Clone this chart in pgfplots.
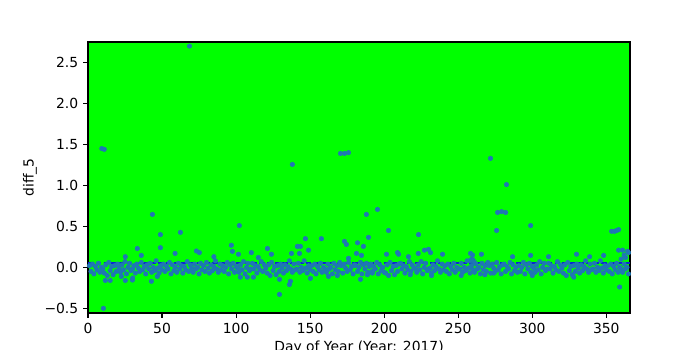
\documentclass[border=0pt]{standalone}
\usepackage{pgfplots}
\pgfplotsset{compat=1.18}
\usepackage{fontspec}
\setmainfont{DejaVu Sans}
\definecolor{c1}{RGB}{31,119,180}
\definecolor{bg}{RGB}{0,255,0}
\definecolor{meanc}{RGB}{10,40,210}
\begin{document}
\begin{tikzpicture}
\begin{axis}[
  at={(0,0)}, anchor=south west,
  scale only axis, width=390.24pt, height=195.12pt,
  xmin=0, xmax=366, ymin=-0.557, ymax=2.75,
  axis background/.style={fill=bg},
  axis line style={line width=0.8pt},
  every tick/.style={line width=0.8pt, black},
  tick align=outside, major tick length=3.5pt,
  xtick pos=bottom, ytick pos=left,
  xtick={0,50,100,150,200,250,300,350},
  ytick={-0.5,0,0.5,1,1.5,2,2.5},
  yticklabels={−0.5,0.0,0.5,1.0,1.5,2.0,2.5},
  /pgf/number format/assume math mode=true,
  ticklabel style={font=\fontsize{10}{12}\selectfont},
  every axis y label/.style={at={(axis description cs:0,0.5)}, xshift=-41.8pt, rotate=90, anchor=center},
  every axis x label/.style={at={(axis description cs:0.5,0)}, anchor=north, yshift=-20pt, inner sep=0pt},
  xlabel={Day of Year (Year: 2017)},
  ylabel={diff\_5},
]
\addplot[only marks, mark=*, mark size=1.6pt, color=c1, mark options={draw=none, fill=c1}] coordinates {
(1,0.02)(2,-0.05)(3,0.04)(4,-0.08)(5,0.01)(6,-0.03)(7,0.05)(8,-0.06)(9,0.00)(10,-0.02)
(11,-0.07)(12,0.03)(13,-0.10)(14,0.06)(15,-0.04)(16,0.01)(17,-0.09)(18,0.02)(19,-0.05)(20,0.04)
(21,-0.01)(22,-0.06)(23,0.03)(24,-0.03)(25,0.07)(26,-0.08)(27,0.00)(28,0.05)(29,-0.04)(30,-0.02)
(31,0.02)(32,-0.07)(33,0.04)(34,-0.01)(35,-0.05)(36,0.06)(37,-0.03)(38,0.01)(39,-0.08)(40,0.03)
(41,-0.02)(42,0.05)(43,-0.06)(44,0.00)(45,-0.04)(46,0.08)(47,-0.01)(48,-0.07)(49,0.02)(50,-0.03)
(51,0.04)(52,-0.05)(53,0.01)(54,-0.02)(55,0.06)(56,-0.08)(57,0.03)(58,-0.04)(59,0.00)(60,-0.06)
(61,0.05)(62,-0.02)(63,0.02)(64,-0.07)(65,0.01)(66,-0.03)(67,0.07)(68,-0.05)(69,0.03)(70,-0.01)
(71,-0.06)(72,0.04)(73,-0.02)(74,0.00)(75,-0.08)(76,0.05)(77,-0.03)(78,0.02)(79,-0.05)(80,0.06)
(81,-0.01)(82,-0.07)(83,0.03)(84,-0.04)(85,0.01)(86,0.08)(87,-0.02)(88,-0.06)(89,0.04)(90,-0.03)
(91,0.02)(92,-0.05)(93,0.00)(94,0.06)(95,-0.08)(96,0.03)(97,-0.02)(98,0.05)(99,-0.06)(100,0.01)
(101,-0.01)(102,-0.06)(103,0.03)(104,-0.03)(105,0.07)(106,-0.08)(107,0.00)(108,0.05)(109,-0.04)(110,-0.02)
(111,0.05)(112,-0.02)(113,0.02)(114,-0.07)(115,0.01)(116,-0.03)(117,0.07)(118,-0.05)(119,0.03)(120,-0.01)
(121,-0.07)(122,0.03)(123,-0.10)(124,0.06)(125,-0.04)(126,0.01)(127,-0.09)(128,0.02)(129,-0.05)(130,0.04)
(131,-0.01)(132,-0.07)(133,0.03)(134,-0.04)(135,0.01)(136,0.08)(137,-0.02)(138,-0.06)(139,0.04)(140,-0.03)
(141,-0.02)(142,0.05)(143,-0.06)(144,0.00)(145,-0.04)(146,0.08)(147,-0.01)(148,-0.07)(149,0.02)(150,-0.03)
(151,0.02)(152,-0.05)(153,0.04)(154,-0.08)(155,0.01)(156,-0.03)(157,0.05)(158,-0.06)(159,0.00)(160,-0.02)
(161,-0.06)(162,0.04)(163,-0.02)(164,0.00)(165,-0.08)(166,0.05)(167,-0.03)(168,0.02)(169,-0.05)(170,0.06)
(171,0.02)(172,-0.07)(173,0.04)(174,-0.01)(175,-0.05)(176,0.06)(177,-0.03)(178,0.01)(179,-0.08)(180,0.03)
(181,0.02)(182,-0.05)(183,0.00)(184,0.06)(185,-0.08)(186,0.03)(187,-0.02)(188,0.05)(189,-0.06)(190,0.01)
(191,0.04)(192,-0.05)(193,0.01)(194,-0.02)(195,0.06)(196,-0.08)(197,0.03)(198,-0.04)(199,0.00)(200,-0.06)
(201,-0.07)(202,0.03)(203,-0.10)(204,0.06)(205,-0.04)(206,0.01)(207,-0.09)(208,0.02)(209,-0.05)(210,0.04)
(211,0.05)(212,-0.02)(213,0.02)(214,-0.07)(215,0.01)(216,-0.03)(217,0.07)(218,-0.05)(219,0.03)(220,-0.01)
(221,-0.01)(222,-0.06)(223,0.03)(224,-0.03)(225,0.07)(226,-0.08)(227,0.00)(228,0.05)(229,-0.04)(230,-0.02)
(231,-0.01)(232,-0.07)(233,0.03)(234,-0.04)(235,0.01)(236,0.08)(237,-0.02)(238,-0.06)(239,0.04)(240,-0.03)
(241,0.02)(242,-0.05)(243,0.04)(244,-0.08)(245,0.01)(246,-0.03)(247,0.05)(248,-0.06)(249,0.00)(250,-0.02)
(251,-0.02)(252,0.05)(253,-0.06)(254,0.00)(255,-0.04)(256,0.08)(257,-0.01)(258,-0.07)(259,0.02)(260,-0.03)
(261,-0.06)(262,0.04)(263,-0.02)(264,0.00)(265,-0.08)(266,0.05)(267,-0.03)(268,0.02)(269,-0.05)(270,0.06)
(271,0.02)(272,-0.07)(273,0.04)(274,-0.01)(275,-0.05)(276,0.06)(277,-0.03)(278,0.01)(279,-0.08)(280,0.03)
(281,0.04)(282,-0.05)(283,0.01)(284,-0.02)(285,0.06)(286,-0.08)(287,0.03)(288,-0.04)(289,0.00)(290,-0.06)
(291,0.02)(292,-0.05)(293,0.00)(294,0.06)(295,-0.08)(296,0.03)(297,-0.02)(298,0.05)(299,-0.06)(300,0.01)
(301,-0.01)(302,-0.06)(303,0.03)(304,-0.03)(305,0.07)(306,-0.08)(307,0.00)(308,0.05)(309,-0.04)(310,-0.02)
(311,0.05)(312,-0.02)(313,0.02)(314,-0.07)(315,0.01)(316,-0.03)(317,0.07)(318,-0.05)(319,0.03)(320,-0.01)
(321,-0.07)(322,0.03)(323,-0.10)(324,0.06)(325,-0.04)(326,0.01)(327,-0.09)(328,0.02)(329,-0.05)(330,0.04)
(331,-0.01)(332,-0.07)(333,0.03)(334,-0.04)(335,0.01)(336,0.08)(337,-0.02)(338,-0.06)(339,0.04)(340,-0.03)
(341,-0.02)(342,0.05)(343,-0.06)(344,0.00)(345,-0.04)(346,0.08)(347,-0.01)(348,-0.07)(349,0.02)(350,-0.03)
(351,0.02)(352,-0.05)(353,0.04)(354,-0.08)(355,0.01)(356,-0.03)(357,0.05)(358,-0.06)(359,0.00)(360,-0.02)
(361,-0.06)(362,0.04)(363,-0.02)(364,0.00)(365,-0.08)
(9.3,1.45)(11,1.44)(68.5,2.70)(138,1.256)(170.5,1.39)(173.2,1.39)(175.9,1.40)(271.8,1.33)(282.6,1.01)
(43.5,0.646)(48.9,0.40)(62.4,0.427)(102.2,0.51)(48.9,0.24)(33.3,0.23)(58.8,0.17)(73.2,0.20)(75.2,0.18)(36,0.146)(25.2,0.13)(85,0.13)
(10.4,-0.50)(42.8,-0.17)(46.8,-0.11)(30,-0.155)(30.2,-0.13)(25.2,-0.16)(15,-0.16)(11.7,-0.16)(22.5,-0.11)
(96.8,0.27)(97.5,0.195)(101.6,0.16)(110.3,0.18)(121.2,0.23)(123.9,0.16)(115,0.12)(137.4,0.17)(141.4,0.256)(143.4,0.256)(142.8,0.17)(146.8,0.35)(148.9,0.21)(157.6,0.35)(173.2,0.317)(174.5,0.28)(175.9,0.11)
(129.3,-0.33)(129.3,-0.146)(136,-0.21)(136.7,-0.17)(150.2,-0.134)(102.9,-0.12)(111.7,-0.12)(107.6,-0.12)(162.4,-0.11)(168.4,-0.10)
(188,0.646)(195.5,0.707)(189.4,0.366)(202.9,0.45)(223.2,0.40)(182,0.30)(186,0.256)(181.3,0.17)(184.7,0.146)(201.6,0.16)(209,0.18)(209.7,0.16)(216.4,0.13)(227.2,0.21)(229.9,0.22)(231.3,0.18)(223,0.17)(239.4,0.16)(258.3,0.17)(259.7,0.15)(265.7,0.16)
(184,-0.146)(188.7,-0.09)(192,-0.07)(217.6,-0.09)(232,-0.10)(252,-0.10)(268,-0.09)
(276.6,0.67)(279.3,0.68)(282,0.67)(275.9,0.45)(298.9,0.51)(353.6,0.44)(355.6,0.44)(357,0.45)(358.3,0.46)(358.3,0.21)(361,0.21)(364.4,0.195)
(286.7,0.13)(298.9,0.146)(311,0.13)(329.9,0.16)(338.7,0.13)(348.2,0.146)
(359,-0.24)(273.9,-0.07)(300,-0.10)(328,-0.12)
(258,0.08)(259,0.10)(260,0.09)(261,0.06)(360,0.10)(362,0.15)(363,0.12)(365,0.18)
};
\addplot[meanc, line width=1.1pt, dash pattern=on 4pt off 1.6pt] coordinates {(0,0.055) (366,0.055)};
\end{axis}
\pgfresetboundingbox
\path[use as bounding box] (-63.36pt,-26.64pt) rectangle (440.64pt,225.36pt);
\end{tikzpicture}
\end{document}
